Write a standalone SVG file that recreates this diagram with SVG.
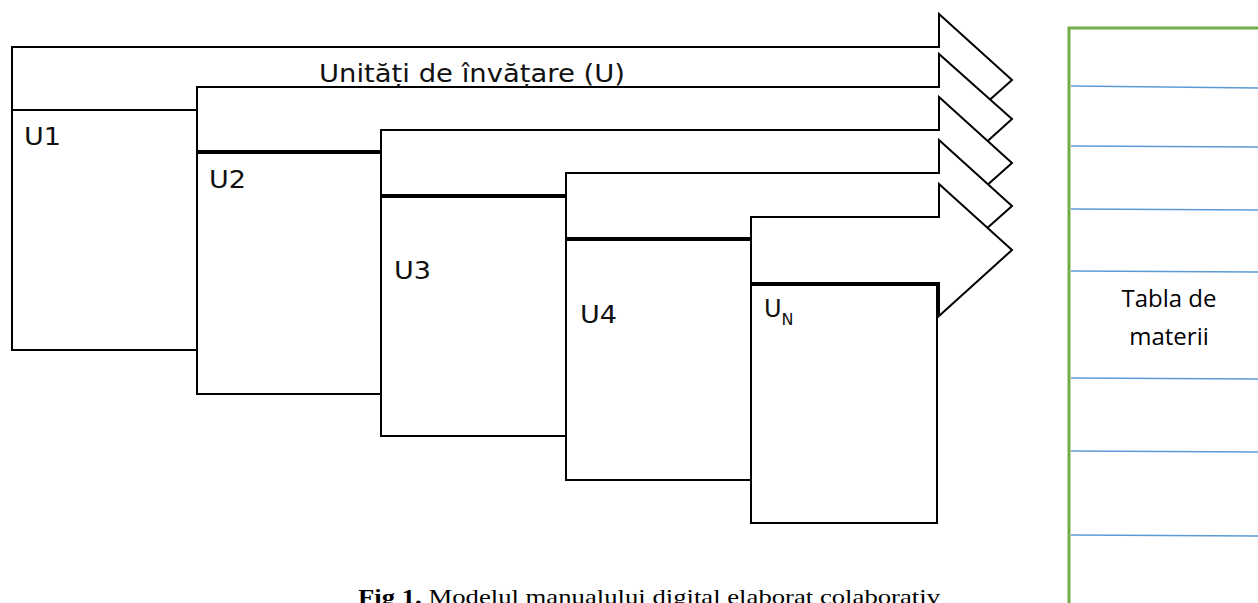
<svg xmlns="http://www.w3.org/2000/svg" width="1258" height="603" viewBox="0 0 1258 603">
<style>
.sh{fill:#fff;stroke:#000;stroke-width:2;stroke-linejoin:miter}
.lbl{font-family:"DejaVu Sans",Verdana,sans-serif;font-size:24px;fill:#111}
.row{stroke:#5B9BD5;stroke-width:1.5}
.tbl{font-family:"Open Sans","Liberation Sans",sans-serif;font-size:24px;fill:#000}
</style>
<rect width="1258" height="603" fill="#fff"/>
<g id="u1">
<polygon class="sh" points="12,47 939,47 939,14 1012,80 939,145 939,110 12,110"/>
<rect class="sh" x="12" y="110" width="185" height="240"/>
<text class="lbl" x="24" y="145" textLength="37" lengthAdjust="spacingAndGlyphs">U1</text>
</g>
<g id="u2">
<polygon class="sh" points="197,87 939,87 939,54 1012,119 939,185 939,151 197,151"/>
<rect class="sh" x="197" y="153" width="184" height="241"/>
<text class="lbl" x="209" y="188" textLength="37" lengthAdjust="spacingAndGlyphs">U2</text>
</g>
<g id="u3">
<polygon class="sh" points="381,130 939,130 939,97 1012,163 939,228 939,195 381,195"/>
<rect class="sh" x="381" y="197" width="185" height="239"/>
<text class="lbl" x="394" y="279" textLength="37" lengthAdjust="spacingAndGlyphs">U3</text>
</g>
<g id="u4">
<polygon class="sh" points="566,173 939,173 939,140 1012,206 939,271 939,238 566,238"/>
<rect class="sh" x="566" y="240" width="185" height="240"/>
<text class="lbl" x="580" y="323" textLength="37" lengthAdjust="spacingAndGlyphs">U4</text>
</g>
<g id="un">
<polygon class="sh" points="751,217 939,217 939,184 1012,250 939,316 939,283 751,283"/>
<rect class="sh" x="751" y="285" width="186" height="238"/>
<text class="lbl" x="764" y="317">U<tspan font-size="16" dy="8">N</tspan></text>
</g>
<g id="title">
<text x="319" y="82" font-family="'DejaVu Sans',Verdana,sans-serif" font-size="25" fill="#111" textLength="306" lengthAdjust="spacingAndGlyphs">Unități de învățare (U)</text>
</g>
<g id="cuprins">
<rect x="1069" y="28" width="200" height="600" fill="#fff" stroke="#70AD47" stroke-width="3"/>
<line class="row" x1="1071" y1="86" x2="1258" y2="88"/>
<line class="row" x1="1071" y1="146" x2="1258" y2="147"/>
<line class="row" x1="1071" y1="209" x2="1258" y2="210"/>
<line class="row" x1="1071" y1="271" x2="1258" y2="272"/>
<line class="row" x1="1071" y1="378" x2="1258" y2="379"/>
<line class="row" x1="1071" y1="451" x2="1258" y2="452"/>
<line class="row" x1="1071" y1="535" x2="1258" y2="536"/>
<text class="tbl" x="1169" y="307" text-anchor="middle">Tabla de</text>
<text class="tbl" x="1169" y="345" text-anchor="middle">materii</text>
</g>
<g id="connectors"></g>
<g id="caption">
<text x="358" y="604" font-family="'Liberation Serif','Times New Roman',serif" font-size="22" fill="#000" textLength="582" lengthAdjust="spacingAndGlyphs"><tspan font-weight="bold">Fig 1.</tspan>  Modelul manualului digital elaborat colaborativ</text>
</g>
</svg>
